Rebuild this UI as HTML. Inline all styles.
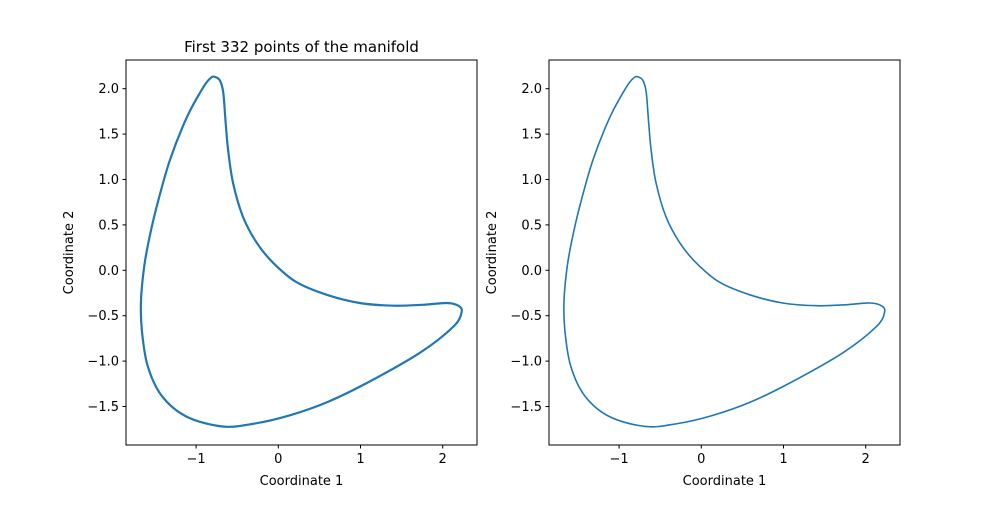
<!DOCTYPE html>
<html><head><meta charset="utf-8"><style>
body{margin:0;background:#fff;font-family:"Liberation Sans","DejaVu Sans",sans-serif}
svg text{font-family:"DejaVu Sans","Liberation Sans",sans-serif;font-size:13px;fill:#000}
</style></head><body>
<svg id="fig" width="1000" height="500"></svg>
<script>
const xs=[-0.77,-0.71,-0.67,-0.64,-0.61,-0.55,-0.43,-0.26,-0.06,0.22,0.59,0.99,1.40,1.75,2.05,2.19,2.23,2.13,1.72,1.08,0.60,0.13,-0.30,-0.68,-1.12,-1.42,-1.59,-1.66,-1.67,-1.63,-1.57,-1.48,-1.32,-1.11,-0.91,-0.82];
const ys=[2.13,2.09,1.96,1.62,1.32,0.96,0.59,0.30,0.08,-0.13,-0.27,-0.36,-0.39,-0.38,-0.36,-0.39,-0.46,-0.62,-0.91,-1.24,-1.45,-1.60,-1.69,-1.72,-1.61,-1.38,-1.05,-0.66,-0.33,0.05,0.35,0.70,1.21,1.69,2.02,2.12];
const xTicks=[-1,0,1,2];
const xTickLabels=["−1","0","1","2"];
const yTicks=[-1.5,-1,-0.5,0,0.5,1,1.5,2];
const yTickLabels=["−1.5","−1.0","−0.5","0.0","0.5","1.0","1.5","2.0"];
const NS="http://www.w3.org/2000/svg";
const svg=document.getElementById('fig');
function mk(t,a,p){const e=document.createElementNS(NS,t);for(const k in a)e.setAttribute(k,a[k]);(p||svg).appendChild(e);return e;}
function panel(off,idx,title){
  const g=mk('g',{});
  
  
  const L=126+off,R=477+off,T=60,B=445;
  const sx=v=>278.3+off+v*82.2, sy=v=>270.3-v*90.8;
  const P=xs.map((x,i)=>[sx(x),sy(ys[i])]);const n=P.length;
  let d='M'+P[0][0].toFixed(2)+','+P[0][1].toFixed(2);
  for(let i=0;i<n;i++){const p0=P[(i-1+n)%n],p1=P[i],p2=P[(i+1)%n],p3=P[(i+2)%n];
    const c1=[p1[0]+(p2[0]-p0[0])/6,p1[1]+(p2[1]-p0[1])/6],c2=[p2[0]-(p3[0]-p1[0])/6,p2[1]-(p3[1]-p1[1])/6];
    d+=`C${c1[0].toFixed(2)},${c1[1].toFixed(2)} ${c2[0].toFixed(2)},${c2[1].toFixed(2)} ${p2[0].toFixed(2)},${p2[1].toFixed(2)}`;}
  const c=mk('path',{d:d,fill:'none',stroke:'#1f77b4','stroke-width':idx==1?2.2:1.6,'stroke-linejoin':'round'},g);
  
  
  const fr=mk('rect',{x:L,y:T,width:R-L,height:B-T,fill:'none',stroke:'#000','stroke-width':1},g);
  
  
  xTicks.forEach((v,i)=>{const x=sx(v);mk('line',{x1:x,x2:x,y1:B,y2:B+3.5,stroke:'#000'},g);
    const t=mk('text',{x:x,y:B+18,'text-anchor':'middle'},g);t.textContent=xTickLabels[i];
    
    });
  yTicks.forEach((v,i)=>{const y=sy(v);mk('line',{x1:L-3.5,x2:L,y1:y,y2:y,stroke:'#000'},g);
    const t=mk('text',{x:L-7,y:y+4.5,'text-anchor':'end'},g);t.textContent=yTickLabels[i];
    
    });
  const xl=mk('text',{x:(L+R)/2,y:485,'text-anchor':'middle'},g);xl.textContent='Coordinate 1';
  
  
  const yl=mk('text',{x:0,y:0,'text-anchor':'middle',transform:`translate(${L-53},${(T+B)/2}) rotate(-90)`},g);yl.textContent='Coordinate 2';
  
  
  if(title){const tt=mk('text',{x:(L+R)/2,y:52,'text-anchor':'middle'},g);tt.style.fontSize='15px';tt.textContent=title;
    
    }
}
panel(0,1,'First 332 points of the manifold');
panel(423,2,null);
</script>
</body></html>
